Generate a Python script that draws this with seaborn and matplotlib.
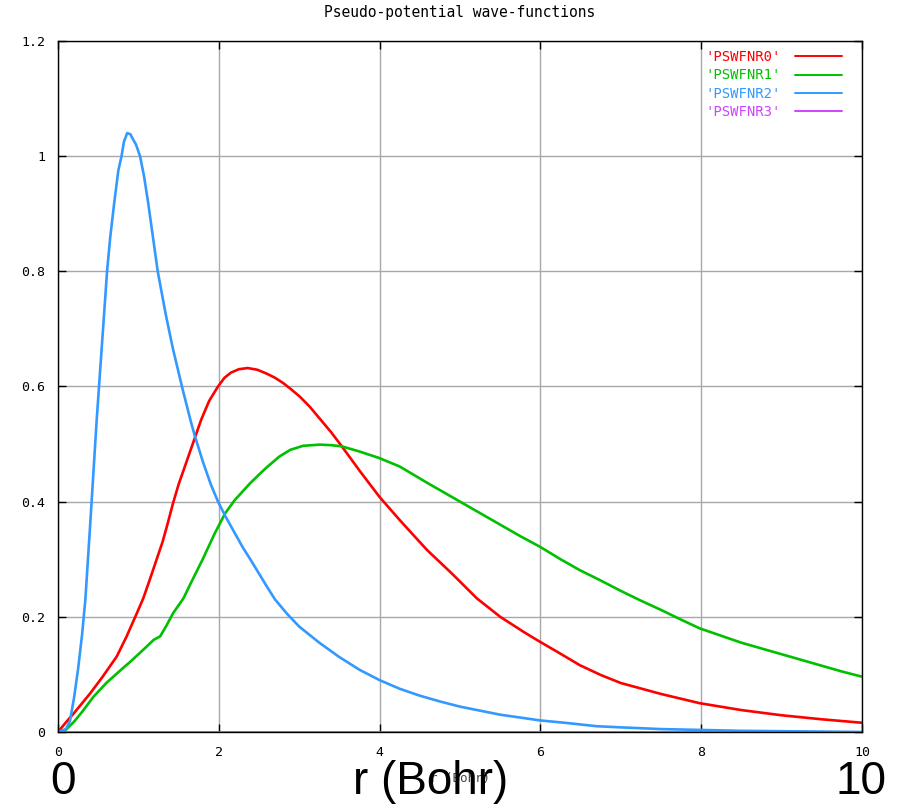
import pandas as pd
import seaborn as sns
import matplotlib.pyplot as plt

r0 = [0, 0.1, 0.2, 0.3, 0.4, 0.55, 0.73, 0.85, 0.98, 1.06, 1.14, 1.22, 1.3, 1.36, 1.43,
      1.5, 1.6, 1.7, 1.78, 1.88, 1.99, 2.07, 2.15, 2.25, 2.36, 2.48, 2.6, 2.7, 2.8,
      2.9, 3.01, 3.13, 3.25, 3.4, 3.53, 3.76, 4.0, 4.25, 4.4, 4.59, 4.9, 5.21, 5.5,
      5.8, 5.99, 6.2, 6.49, 6.75, 7.0, 7.5, 7.98, 8.5, 9.0, 9.5, 10]
psi0 = [0, 0.017, 0.033, 0.05, 0.067, 0.095, 0.131, 0.165, 0.206, 0.232, 0.264, 0.297,
        0.33, 0.36, 0.397, 0.43, 0.47, 0.51, 0.542, 0.575, 0.6, 0.615, 0.624, 0.63,
        0.632, 0.629, 0.622, 0.615, 0.606, 0.595, 0.582, 0.565, 0.545, 0.52, 0.496,
        0.452, 0.408, 0.368, 0.345, 0.316, 0.275, 0.232, 0.2, 0.173, 0.157, 0.14,
        0.116, 0.099, 0.085, 0.066, 0.05, 0.038, 0.029, 0.022, 0.016]

r1 = [0, 0.07, 0.2, 0.3, 0.44, 0.6, 0.8, 0.9, 1.0, 1.1, 1.19, 1.27, 1.35, 1.43, 1.56,
      1.65, 1.8, 1.95, 2.08, 2.2, 2.39, 2.5, 2.6, 2.75, 2.89, 3.05, 3.26, 3.4, 3.53,
      3.75, 3.99, 4.25, 4.6, 5.0, 5.25, 5.5, 5.75, 5.99, 6.25, 6.49, 6.75, 7.0, 7.25,
      7.5, 7.75, 7.98, 8.25, 8.5, 8.75, 9.0, 9.25, 9.5, 9.75, 10]
psi1 = [0, 0.0, 0.018, 0.035, 0.061, 0.085, 0.11, 0.122, 0.135, 0.148, 0.16, 0.166,
        0.185, 0.206, 0.232, 0.258, 0.3, 0.345, 0.38, 0.403, 0.432, 0.447, 0.46,
        0.478, 0.49, 0.497, 0.499, 0.498, 0.496, 0.487, 0.476, 0.461, 0.432, 0.4,
        0.38, 0.36, 0.34, 0.322, 0.3, 0.281, 0.263, 0.245, 0.228, 0.212, 0.195,
        0.18, 0.167, 0.155, 0.145, 0.135, 0.125, 0.115, 0.105, 0.096]

r2 = [0, 0.1, 0.15, 0.2, 0.25, 0.3, 0.34, 0.4, 0.44, 0.48, 0.51, 0.56, 0.61, 0.65, 0.7,
      0.75, 0.79, 0.82, 0.86, 0.9, 0.93, 0.97, 1.02, 1.07, 1.12, 1.18, 1.24, 1.34,
      1.43, 1.55, 1.65, 1.7, 1.8, 1.9, 1.99, 2.08, 2.2, 2.3, 2.4, 2.5, 2.6, 2.7, 2.85,
      3.0, 3.25, 3.5, 3.75, 4.0, 4.25, 4.5, 4.75, 5.0, 5.25, 5.5, 5.75, 6.0, 6.3,
      6.7, 7.0, 7.5, 8.5, 10]
psi2 = [0, 0.005, 0.02, 0.06, 0.11, 0.17, 0.23, 0.36, 0.45, 0.54, 0.6, 0.7, 0.8, 0.86,
        0.92, 0.975, 1.0, 1.025, 1.04, 1.038, 1.03, 1.02, 1.0, 0.965, 0.92, 0.86, 0.8,
        0.725, 0.665, 0.595, 0.54, 0.515, 0.47, 0.43, 0.4, 0.375, 0.345, 0.32, 0.298,
        0.275, 0.252, 0.23, 0.205, 0.183, 0.155, 0.13, 0.108, 0.09, 0.075, 0.063,
        0.053, 0.044, 0.037, 0.03, 0.025, 0.02, 0.016, 0.01, 0.008, 0.005, 0.002, 0.0]

r3 = [0, 10]
psi3 = [0, 0]

labels = ["'PSWFNR0'", "'PSWFNR1'", "'PSWFNR2'", "'PSWFNR3'"]
colors = ['#ff0000', '#00c000', '#3399ff', '#cc44ff']
xticks = [0, 2, 4, 6, 8, 10]
yticks = [0, 0.2, 0.4, 0.6, 0.8, 1.0, 1.2]
ytick_labels = ['0', '0.2', '0.4', '0.6', '0.8', '1', '1.2']

frames = []
for lab, rr, vv in zip(labels, [r0, r1, r2, r3], [psi0, psi1, psi2, psi3]):
    frames.append(pd.DataFrame({'r': rr, 'value': vv, 'series': lab}))
df = pd.concat(frames, ignore_index=True)

sns.set_theme(style='white')
plt.rcParams['font.family'] = ['DejaVu Sans Mono']

fig = plt.figure(figsize=(9.01, 8.08), dpi=100)
ax = fig.add_axes([0.0644, 0.0941, 0.8923, 0.8552])

sns.lineplot(data=df, x='r', y='value', hue='series', hue_order=labels,
             palette=dict(zip(labels, colors)), estimator=None, sort=False,
             linewidth=1.9, ax=ax)

ax.set_xlim(0, 10)
ax.set_ylim(0, 1.2)
ax.set_xticks(xticks)
ax.set_xticklabels([str(t) for t in xticks])
ax.set_yticks(yticks)
ax.set_yticklabels(ytick_labels)
ax.tick_params(direction='in', length=6, width=1, color='black', labelsize=9.5,
               top=True, right=True, bottom=True, left=True, labelcolor='black')
ax.tick_params(axis='y', pad=9)
ax.tick_params(axis='x', pad=10)
ax.grid(True, color='#a8a8a8', linewidth=1.0)
for s in ax.spines.values():
    s.set_color('black')
    s.set_linewidth(1.0)
ax.set_xlabel('')
ax.set_ylabel('')

handles, labs = ax.get_legend_handles_labels()
leg = ax.legend(handles, labs, loc='upper right', bbox_to_anchor=(0.975, 0.987),
                frameon=False, markerfirst=False, labelcolor='linecolor',
                fontsize=10, handlelength=3.4, handletextpad=1.0,
                labelspacing=0.32, borderaxespad=0, borderpad=0)
for ln in leg.get_lines():
    ln.set_linewidth(1.4)

fig.text(0.5105, 0.984, 'Pseudo-potential wave-functions', ha='center', va='center',
         fontsize=10.5, color='black')
fig.text(0.5105, 0.037, 'r (Bohr)', ha='center', va='center', fontsize=9,
         color='#444444')

big = dict(family=['Liberation Sans', 'DejaVu Sans'], fontsize=33, color='black',
           va='center', ha='center')
fig.text(63 / 901, 1 - 782 / 808, '0', **big)
fig.text(431 / 901, 1 - 782 / 808, 'r (Bohr)', **big)
fig.text(861 / 901, 1 - 782 / 808, '10', **big)

fig.savefig('out.png', dpi=100, facecolor='white')
